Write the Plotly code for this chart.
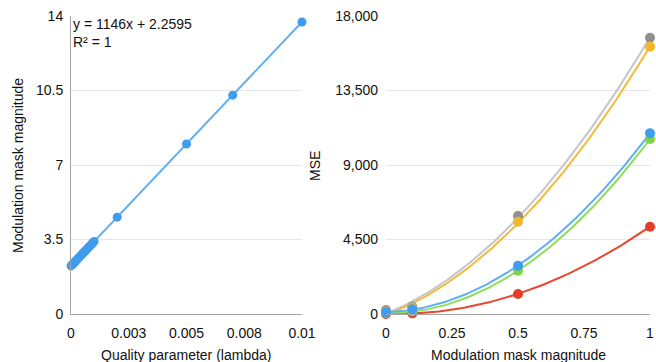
import numpy as np
import plotly.graph_objects as go

# Left panel: quality parameter vs. modulation mask magnitude
lambdas = [0, 0.00005, 0.0001, 0.00015, 0.0002, 0.00025, 0.0003, 0.00035, 0.0004,
           0.00045, 0.0005, 0.00055, 0.0006, 0.00065, 0.0007, 0.00075, 0.0008,
           0.00085, 0.0009, 0.00095, 0.001, 0.002, 0.005, 0.007, 0.01]
mask_mag = [2.260, 2.317, 2.374, 2.431, 2.489, 2.546, 2.603, 2.661, 2.718,
            2.775, 2.833, 2.890, 2.947, 3.004, 3.062, 3.119, 3.176,
            3.234, 3.291, 3.348, 3.406, 4.551, 7.989, 10.281, 13.719]
trend_slope = 1146
trend_intercept = 2.2595
left_xticks = [0, 0.0025, 0.005, 0.0075, 0.01]
left_xlabels = ["0", "0.003", "0.005", "0.008", "0.01"]
left_yticks = [0, 3.5, 7, 10.5, 14]
left_ylabels = ["0", "3.5", "7", "10.5", "14"]

# Right panel: modulation mask magnitude vs. MSE (five series)
mod_mag = [0, 0.1, 0.5, 1]
mse_gray = [240, 440, 5920, 16690]
mse_yellow = [150, 380, 5575, 16150]
mse_red = [0, 40, 1210, 5275]
mse_green = [60, 150, 2615, 10570]
mse_blue = [100, 280, 2920, 10915]
right_xticks = [0, 0.25, 0.5, 0.75, 1]
right_xlabels = ["0", "0.25", "0.5", "0.75", "1"]
right_yticks = [0, 4500, 9000, 13500, 18000]
right_ylabels = ["0", "4,500", "9,000", "13,500", "18,000"]

FONT = "Liberation Sans, Arial, Helvetica, sans-serif"
W, H = 656, 362

fig = go.Figure()

# linear trendline for the left panel
tx = np.array([0, 0.01])
fig.add_trace(go.Scatter(x=tx, y=trend_slope * tx + trend_intercept, mode="lines",
                         line=dict(color="#62b0f2", width=2),
                         xaxis="x", yaxis="y", hoverinfo="skip", cliponaxis=False))
fig.add_trace(go.Scatter(x=lambdas, y=mask_mag, mode="markers",
                         marker=dict(color="#3f9df0", size=9),
                         xaxis="x", yaxis="y", cliponaxis=False))

# quadratic trendlines for the right panel
series = [
    (mse_gray, "#c6c6c6", "#8f8f8f"),
    (mse_yellow, "#f2bb3c", "#f2b52e"),
    (mse_red, "#e8472f", "#e23d28"),
    (mse_green, "#8fdc5a", "#7fd24c"),
    (mse_blue, "#5eaef2", "#3f9df0"),
]
cx = np.linspace(0, 1, 101)
for vals, lc, mc in series:
    coef = np.polyfit(mod_mag, vals, 2)
    fig.add_trace(go.Scatter(x=cx, y=np.polyval(coef, cx), mode="lines",
                             line=dict(color=lc, width=2),
                             xaxis="x2", yaxis="y2", hoverinfo="skip", cliponaxis=False))
for vals, lc, mc in series:
    fig.add_trace(go.Scatter(x=mod_mag, y=vals, mode="markers",
                             marker=dict(color=mc, size=10),
                             xaxis="x2", yaxis="y2", cliponaxis=False))

ydom = [1 - 314 / H, 1 - 16 / H]
tick_font = dict(family=FONT, size=14, color="#111")
axis_common = dict(showgrid=False, zeroline=False, ticks="", automargin=False,
                   tickfont=tick_font, linecolor="#a6a6a6", linewidth=1)
grid_common = dict(showgrid=True, gridcolor="#e6e6e6", gridwidth=1, zeroline=False,
                   ticks="", automargin=False, tickfont=tick_font)

fig.update_layout(
    width=W, height=H,
    margin=dict(l=0, r=0, t=0, b=0, autoexpand=False),
    paper_bgcolor="white", plot_bgcolor="white",
    showlegend=False,
    xaxis=dict(domain=[71 / W, 302 / W], range=[0, 0.01], tickvals=left_xticks,
               ticktext=left_xlabels, showline=True, anchor="y",
               ticklabelstandoff=6, **axis_common),
    yaxis=dict(domain=ydom, range=[0, 14], tickvals=left_yticks, ticktext=left_ylabels,
               showline=True, linecolor="#a6a6a6", anchor="x",
               ticklabelstandoff=4, **grid_common),
    xaxis2=dict(domain=[386 / W, 650 / W], range=[0, 1], tickvals=right_xticks,
                ticktext=right_xlabels, showline=True, anchor="y2",
                ticklabelstandoff=6, **axis_common),
    yaxis2=dict(domain=ydom, range=[0, 18000], tickvals=right_yticks,
                ticktext=right_ylabels, showline=False, anchor="x2",
                ticklabelstandoff=7, **grid_common),
)

ann_font = dict(family=FONT, size=14, color="#111")
centered = dict(xref="paper", yref="paper", showarrow=False,
                xanchor="center", yanchor="middle", font=ann_font)
fig.add_annotation(text="Quality parameter (lambda)", x=186 / W, y=1 - 355 / H, **centered)
fig.add_annotation(text="Modulation mask magnitude", x=18 / W, y=1 - 166 / H,
                   textangle=-90, **centered)
fig.add_annotation(text="Modulation mask magnitude", x=518 / W, y=1 - 355 / H, **centered)
fig.add_annotation(text="MSE", x=315 / W, y=1 - 166 / H, textangle=-90, **centered)
fig.add_annotation(text=f"y = {trend_slope}x + {trend_intercept}", x=71 / W, y=1 - 24 / H,
                   xref="paper", yref="paper", showarrow=False,
                   xanchor="left", yanchor="middle", font=ann_font)
fig.add_annotation(text="R² = 1", x=71 / W, y=1 - 42 / H,
                   xref="paper", yref="paper", showarrow=False,
                   xanchor="left", yanchor="middle", font=ann_font)

fig.write_html("out.html")
